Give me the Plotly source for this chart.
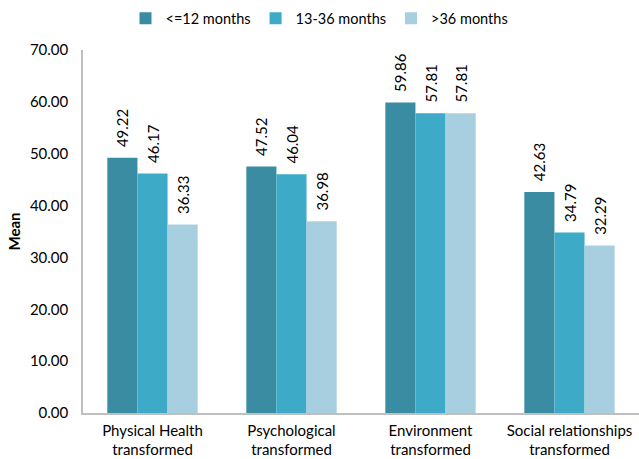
import plotly.graph_objects as go

categories = ["Physical Health<br>transformed", "Psychological<br>transformed",
              "Environment<br>transformed", "Social relationships<br>transformed"]
series_names = ["<=12 months", "13-36 months", ">36 months"]
le12 = [49.22, 47.52, 59.86, 42.63]
m13_36 = [46.17, 46.04, 57.81, 34.79]
gt36 = [36.33, 36.98, 57.81, 32.29]
colors = ["#3A8CA2", "#3DABC7", "#A8CFDF"]

font = "Lato"
fig = go.Figure()
for name, vals, c in zip(series_names, [le12, m13_36, gt36], colors):
    fig.add_trace(go.Bar(
        x=categories, y=vals, name=name, marker_color=c, marker_line_width=0,
        text=["\u00a0\u00a0" + f"{v:.2f}" for v in vals], textposition="outside", textangle=-90,
        constraintext="none",
        textfont=dict(family=font, size=15, color="#000"), cliponaxis=False,
    ))

fig.update_layout(
    width=639, height=459, barmode="group", bargap=0.35, bargroupgap=0,
    plot_bgcolor="white", paper_bgcolor="white",
    margin=dict(l=83, r=0, t=50, b=46, autoexpand=False),
    font=dict(family=font, size=15, color="#000"),
    legend=dict(orientation="h", x=0.5, xanchor="center", xref="container",
                y=0.995, yanchor="top", yref="container",
                font=dict(size=14.5), itemwidth=30, traceorder="normal"),
)
fig.update_yaxes(range=[0, 70], dtick=10, tickformat=".2f", showgrid=False,
                 showline=True, linecolor="#BFBFBF", linewidth=1.5, ticks="",
                 ticklabelstandoff=10, automargin=False,
                 title=dict(text="<b>Mean</b>", font=dict(size=15), standoff=6),
                 zeroline=False)
fig.update_xaxes(showline=True, linecolor="#BFBFBF", linewidth=1.5, ticks="",
                 ticklabelstandoff=3, showgrid=False, automargin=False)
fig.write_html("out.html")
